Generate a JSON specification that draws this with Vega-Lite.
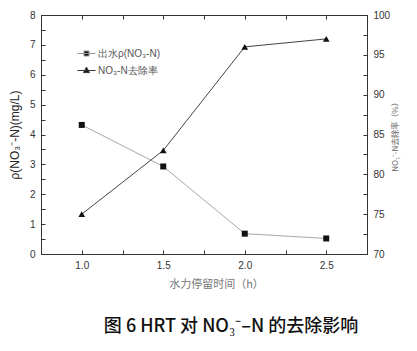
{
  "$schema": "https://vega.github.io/schema/vega-lite/v6.json",
  "autosize": "none",
  "width": 326,
  "height": 239,
  "padding": {"left": 41, "top": 15, "right": 50, "bottom": 97},
  "background": "white",
  "view": {"stroke": "#333", "strokeWidth": 1},
  "config": {
    "axis": {
      "labelFont": "Liberation Sans",
      "labelFontSize": 10,
      "labelColor": "#333",
      "domainColor": "#333",
      "tickColor": "#333",
      "grid": false
    }
  },
  "title": {
    "text": "图 6  HRT 对 NO₃⁻–N 的去除影响",
    "orient": "bottom",
    "anchor": "middle",
    "dx": 27,
    "offset": 29,
    "font": "Noto Sans CJK SC",
    "fontSize": 18,
    "fontWeight": 500,
    "color": "#111"
  },
  "datasets": {
    "main": [
      {"hrt": 1.0, "conc": 4.32, "rate": 75.0},
      {"hrt": 1.5, "conc": 2.93, "rate": 83.0},
      {"hrt": 2.0, "conc": 0.68, "rate": 96.0},
      {"hrt": 2.5, "conc": 0.52, "rate": 97.0}
    ],
    "leg": [
      {"s": "出水ρ(NO₃-N)"},
      {"s": "NO₃-N去除率"}
    ]
  },
  "layer": [
    {
      "data": {"name": "main"},
      "encoding": {
        "x": {
          "field": "hrt", "type": "quantitative",
          "scale": {"domain": [0.75, 2.75], "nice": false, "zero": false},
          "axis": {
            "values": [1.0, 1.25, 1.5, 1.75, 2.0, 2.25, 2.5],
            "labelExpr": "datum.value * 2 % 1 === 0 ? format(datum.value, '.1f') : ''",
            "tickSize": -4,
            "labelPadding": 10,
            "title": "水力停留时间（h）",
            "titleFont": "Noto Sans CJK SC",
            "titleFontSize": 11,
            "titleFontWeight": "normal",
            "titleColor": "#777",
            "titlePadding": 8,
            "titleX": 175
          }
        },
        "y": {
          "field": "conc", "type": "quantitative",
          "scale": {"domain": [0, 8], "nice": false},
          "axis": {
            "orient": "left",
            "values": [0, 0.5, 1, 1.5, 2, 2.5, 3, 3.5, 4, 4.5, 5, 5.5, 6, 6.5, 7, 7.5, 8],
            "labelExpr": "datum.value % 1 === 0 ? format(datum.value, 'd') : ''",
            "tickSize": -4,
            "labelPadding": 10,
            "title": "ρ(NO₃⁻-N)(mg/L)",
            "titleFont": "Liberation Sans",
            "titleFontSize": 12,
            "titleFontWeight": "normal",
            "titleColor": "#222",
            "titlePadding": 8
          }
        }
      },
      "layer": [
        {"mark": {"type": "line", "color": "#a8a8a8", "strokeWidth": 1}},
        {"mark": {"type": "point", "shape": "square", "filled": true, "color": "#111", "size": 36, "opacity": 1}}
      ]
    },
    {
      "data": {"name": "main"},
      "encoding": {
        "x": {
          "field": "hrt", "type": "quantitative",
          "axis": {
            "orient": "top",
            "values": [1.0, 1.25, 1.5, 1.75, 2.0, 2.25, 2.5],
            "labels": false,
            "title": null,
            "tickSize": -4
          }
        },
        "y": {
          "field": "rate", "type": "quantitative",
          "scale": {"domain": [70, 100], "nice": false, "zero": false},
          "axis": {
            "orient": "right",
            "values": [70, 72.5, 75, 77.5, 80, 82.5, 85, 87.5, 90, 92.5, 95, 97.5, 100],
            "labelExpr": "datum.value % 5 === 0 ? format(datum.value, 'd') : ''",
            "tickSize": -4,
            "labelPadding": 10,
            "title": "NO₃⁻-N去除率（%）",
            "titleFont": "Noto Sans CJK SC",
            "titleFontSize": 8,
            "titleFontWeight": "normal",
            "titleColor": "#666",
            "titleAngle": 270,
            "titlePadding": 10
          }
        }
      },
      "layer": [
        {"mark": {"type": "line", "color": "#444", "strokeWidth": 1}},
        {"mark": {"type": "point", "shape": "triangle-up", "filled": true, "color": "#111", "size": 45, "opacity": 1}}
      ]
    },
    {
      "data": {"name": "leg"},
      "mark": {"type": "point", "filled": true, "fill": "#111", "opacity": 0, "size": 144, "strokeWidth": 1},
      "encoding": {
        "shape": {
          "field": "s", "type": "nominal",
          "scale": {
            "domain": ["出水ρ(NO₃-N)", "NO₃-N去除率"],
            "range": [
              "M-1.5,0H1.5M-0.42,-0.42H0.42V0.42H-0.42Z",
              "M-1.5,0H1.5M0,-0.55L0.5,0.35H-0.5Z"
            ]
          },
          "legend": {
            "orient": "none",
            "legendX": 39,
            "legendY": 32,
            "title": null,
            "symbolSize": 144,
            "symbolOpacity": 1,
            "symbolStrokeWidth": 1,
            "symbolFillColor": "#111",
            "labelFont": "Liberation Sans",
            "labelFontSize": 10,
            "labelColor": "#555",
            "labelOffset": 5,
            "rowPadding": 5
          }
        },
        "stroke": {
          "field": "s", "type": "nominal",
          "scale": {"domain": ["出水ρ(NO₃-N)", "NO₃-N去除率"], "range": ["#999", "#333"]},
          "legend": {
            "orient": "none",
            "legendX": 39,
            "legendY": 32,
            "title": null
          }
        }
      }
    }
  ],
  "resolve": {"scale": {"y": "independent"}, "axis": {"x": "independent"}}
}
